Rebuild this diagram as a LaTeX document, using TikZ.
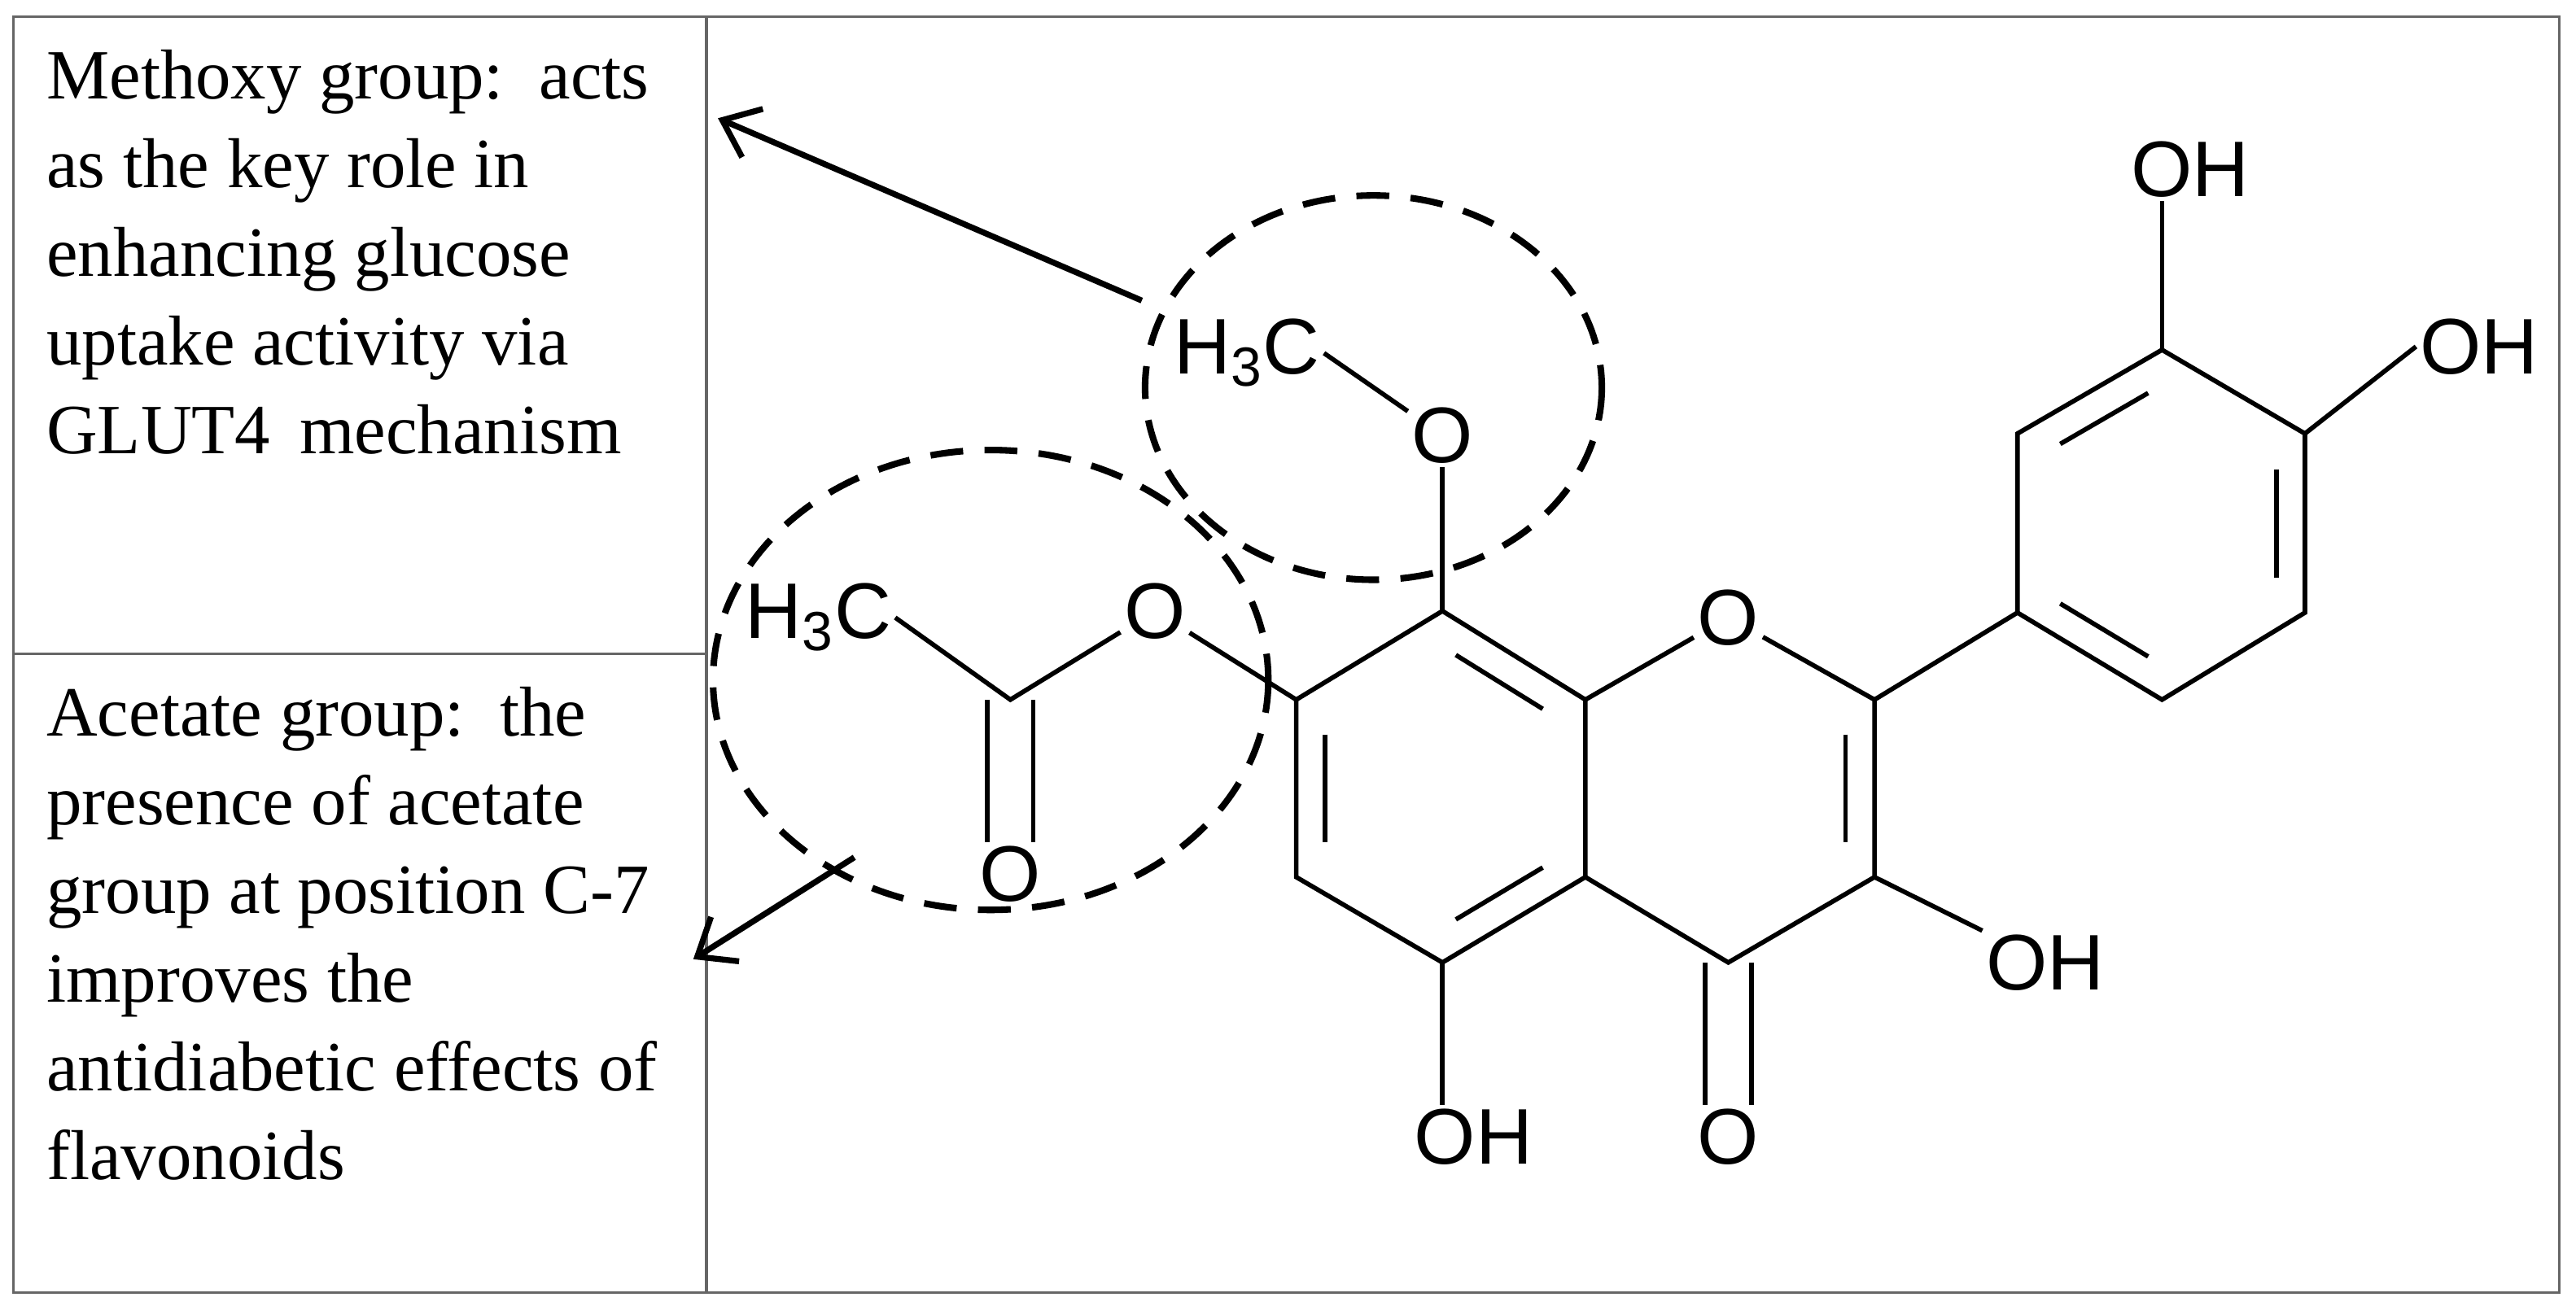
\documentclass[tikz,border=0pt]{standalone}
\usepackage{fontspec}
\setmainfont{Liberation Serif}
\newfontfamily\chemf{Liberation Sans}
\usetikzlibrary{calc,arrows.meta}
\begin{document}
\begin{tikzpicture}[x=0.5pt,y=-0.5pt,
  frame/.style={draw=black!60,line width=0.8pt},
  bond/.style={line width=1.4pt},
  ring/.style={line width=2pt,dash pattern=on 10pt off 6.5pt},
  pointer/.style={line width=1.8pt,-{Straight Barb[length=10pt,width=16pt,line width=1.8pt]}},
  atom/.style={font=\chemf\fontsize{24}{24}\selectfont,inner sep=1pt},
  txt/.style={font=\fontsize{21.5}{27}\selectfont,align=left,anchor=north west,inner sep=0pt}]
\useasboundingbox (0,0) rectangle (1568,795);
\draw[frame] (8,10) rectangle (1558,787);
\draw[frame] (430,10) -- (430,787);
\draw[frame] (8,398) -- (430,398);
\node[txt] (t1) at (28,30) {Methoxy group:\, acts\\as the key role in\\enhancing glucose\\uptake activity via\\GLUT4\, mechanism};
\node[txt] (t2) at (28,418) {Acetate group:\, the\\presence of acetate\\group at position C-7\\improves the\\antidiabetic effects of\\flavonoids};
% ring A
\coordinate (C8) at (878,372);
\coordinate (C8a) at (965,426);
\coordinate (C4a) at (965,534);
\coordinate (C5) at (878,586);
\coordinate (C6) at (789,534);
\coordinate (C7) at (789,426);
\coordinate (cA) at (877,480);
% ring C
\node[atom] (O1) at (1052,376) {O};
\coordinate (C2) at (1141,426);
\coordinate (C3) at (1141,534);
\coordinate (C4) at (1052,586);
\coordinate (cC) at (1053,480);
\node[atom] (O4) at (1052,692) {O};
\node[atom] (OH3) at (1245,586) {OH};
\node[atom] (OH5) at (897,692) {OH};
% ring B
\coordinate (C1') at (1228,373);
\coordinate (C2') at (1228,264);
\coordinate (C3') at (1316,213);
\coordinate (C4') at (1403,264);
\coordinate (C5') at (1403,373);
\coordinate (C6') at (1316,426);
\coordinate (cB) at (1316,320);
\node[atom] (OHa) at (1333,103) {OH};
\node[atom] (OHb) at (1509,211) {OH};
% methoxy
\node[atom] (OM) at (878,265) {O};
\node[atom] (Me1) at (759,215) {H\textsubscript{3}C};
% acetate
\node[atom] (OA) at (703,372) {O};
\node[atom] (Me2) at (498,376) {H\textsubscript{3}C};
\coordinate (CA) at (615,426);
\node[atom] (OC) at (615,532) {O};
\begin{scope}[bond]
\draw (C8) -- (C8a) -- (C4a) -- (C5) -- (C6) -- (C7) -- (C8);
\draw (C8a) -- (O1) -- (C2) -- (C3) -- (C4) -- (C4a);
\draw (C2) -- (C1');
\draw (C1') -- (C2') -- (C3') -- (C4') -- (C5') -- (C6') -- (C1');
\draw (C3') -- (OHa.south -| C3');
\draw (C4') -- (OHb.west);
\draw (C3) -- (OH3.north west);
\draw (C5) -- (OH5.north -| C5);
\draw ([xshift=-7]C4) -- ([xshift=-7]O4.north);
\draw ([xshift=7]C4) -- ([xshift=7]O4.north);
\draw (C8) -- (OM);
\draw (OM) -- (Me1.east);
\draw (C7) -- (OA);
\draw (OA) -- (CA) -- (Me2.east);
\draw ([xshift=-7]CA) -- ([xshift=-7]OC.north);
\draw ([xshift=7]CA) -- ([xshift=7]OC.north);
% inner double lines
\foreach \a/\b/\c in {C7/C6/cA, C8/C8a/cA, C5/C4a/cA, C2/C3/cC, C2'/C3'/cB, C4'/C5'/cB, C6'/C1'/cB}
  \draw ($ ($(\a)!.12!(\b)$)!.2!(\c) $) -- ($ ($(\a)!.88!(\b)$)!.2!(\c) $);
\end{scope}
\draw[ring] (836,236) ellipse [x radius=139, y radius=117];
\draw[ring] (603,414) ellipse [x radius=169, y radius=140];
\coordinate (a1) at (695,183);
\coordinate (e1) at (437,72);
\coordinate (a2) at (520,522);
\coordinate (e2) at (422,584);
\draw[pointer] (a1) -- (e1);
\draw[pointer] (a2) -- (e2);
\end{tikzpicture}
\end{document}
